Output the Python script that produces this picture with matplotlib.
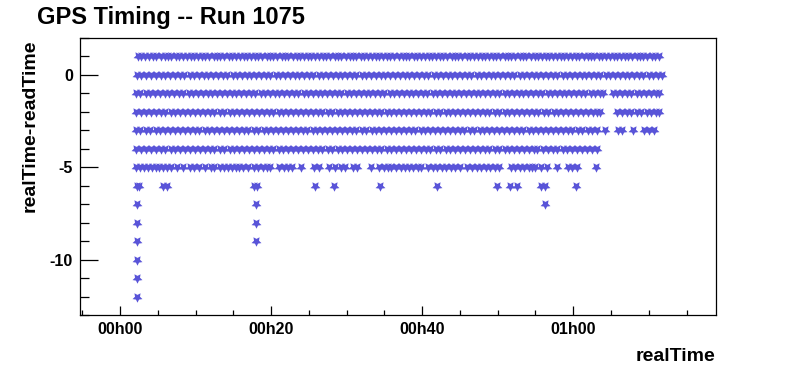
import numpy as np
import matplotlib
matplotlib.use("Agg")
import matplotlib.pyplot as plt
from matplotlib.ticker import MultipleLocator

plt.rcParams['font.family'] = ['Liberation Sans', 'DejaVu Sans']
plt.rcParams['font.weight'] = 'bold'
plt.rcParams['axes.unicode_minus'] = False

# realTime in minutes since 00h00, grouped by the value of realTime-readTime
t_p1 = [2.4, 2.8, 3.3, 3.9, 4.3, 4.8, 5.4, 5.9, 6.3, 6.8, 7.4, 7.8, 8.3, 8.9, 9.4, 9.8, 10.3, 10.9, 11.3,
        11.8, 12.4, 12.9, 13.3, 13.8, 14.4, 14.8, 15.3, 15.9, 16.4, 16.8, 17.3, 17.9, 18.3, 18.8, 19.4,
        19.9, 20.3, 20.8, 21.4, 21.8, 22.3, 22.9, 23.4, 23.8, 24.3, 24.9, 25.3, 25.8, 26.4, 26.9, 27.3,
        27.8, 28.4, 28.8, 29.3, 29.9, 30.4, 30.8, 31.3, 31.9, 32.3, 32.8, 33.4, 33.9, 34.3, 34.8, 35.4,
        35.8, 36.3, 36.9, 37.4, 37.8, 38.3, 38.9, 39.3, 39.8, 40.4, 40.9, 41.3, 41.8, 42.4, 42.8, 43.3,
        43.9, 44.4, 44.8, 45.3, 45.9, 46.3, 46.8, 47.4, 47.9, 48.3, 48.8, 49.4, 49.8, 50.3, 50.9, 51.4,
        51.8, 52.3, 52.9, 53.3, 53.8, 54.4, 54.9, 55.3, 55.8, 56.4, 56.8, 57.3, 57.9, 58.4, 58.8, 59.3,
        59.9, 60.3, 60.8, 61.4, 61.9, 62.3, 62.8, 63.4, 63.8, 64.3, 64.9, 65.4, 65.8, 66.3, 66.9, 67.3,
        67.8, 68.4, 68.9, 69.3, 69.8, 70.4, 70.8, 71.4]
t_0 = [2.2, 2.8, 3.5, 4.1, 4.7, 5.4, 6.0, 6.6, 7.3, 7.9, 8.5, 9.2, 9.8, 10.4, 11.1, 11.7, 12.3, 13.0, 13.6,
       14.2, 14.9, 15.5, 16.1, 16.8, 17.4, 18.0, 18.7, 19.3, 19.9, 20.6, 21.2, 21.8, 22.5, 23.1, 23.7,
       24.4, 25.0, 25.6, 26.3, 26.9, 27.5, 28.2, 28.8, 29.4, 30.1, 30.7, 31.3, 32.0, 32.6, 33.2, 33.9,
       34.5, 35.1, 35.8, 36.4, 37.0, 37.7, 38.3, 38.9, 39.6, 40.2, 40.8, 41.5, 42.1, 42.7, 43.4, 44.0,
       44.6, 45.3, 45.9, 46.5, 47.2, 47.8, 48.4, 49.1, 49.7, 50.3, 51.0, 51.6, 52.2, 52.9, 53.5, 54.1,
       54.8, 55.4, 56.0, 56.7, 57.3, 57.9, 58.6, 59.2, 59.8, 60.5, 61.1, 61.7, 62.4, 63.0, 63.6, 64.3,
       64.9, 65.5, 66.2, 66.8, 67.4, 68.1, 68.7, 69.3, 70.0, 70.6, 71.2, 71.7]
t_m1 = [2.1, 2.7, 3.4, 4.0, 4.6, 5.3, 5.9, 6.5, 7.2, 7.8, 8.4, 9.1, 9.7, 10.3, 11.0, 11.6, 12.2, 12.9, 13.5,
        14.1, 14.8, 15.4, 16.0, 16.7, 17.3, 17.9, 18.6, 19.2, 19.8, 20.5, 21.1, 21.7, 22.4, 23.0, 23.6,
        24.3, 24.9, 25.5, 26.2, 26.8, 27.4, 28.1, 28.7, 29.3, 30.0, 30.6, 31.2, 31.9, 32.5, 33.1, 33.8,
        34.4, 35.0, 35.7, 36.3, 36.9, 37.6, 38.2, 38.8, 39.5, 40.1, 40.7, 41.4, 42.0, 42.6, 43.3, 43.9,
        44.5, 45.2, 45.8, 46.4, 47.1, 47.7, 48.3, 49.0, 49.6, 50.2, 50.9, 51.5, 52.1, 52.8, 53.4, 54.0,
        54.7, 55.3, 55.9, 56.6, 57.2, 57.8, 58.5, 59.1, 59.7, 60.4, 61.0, 61.6, 62.3, 62.9, 63.5, 64.0,
        65.2, 65.8, 66.5, 67.1, 67.7, 68.4, 69.0, 69.6, 70.3, 70.9, 71.4]
t_m2 = [2.1, 2.8, 3.4, 4.1, 4.7, 5.4, 6.0, 6.7, 7.3, 8.0, 8.6, 9.3, 9.9, 10.6, 11.2, 11.9, 12.5, 13.2, 13.8,
        14.5, 15.1, 15.8, 16.4, 17.1, 17.7, 18.4, 19.0, 19.7, 20.3, 21.0, 21.6, 22.3, 22.9, 23.6, 24.2,
        24.9, 25.5, 26.2, 26.8, 27.5, 28.1, 28.8, 29.4, 30.1, 30.7, 31.4, 32.0, 32.7, 33.3, 34.0, 34.6,
        35.3, 35.9, 36.6, 37.2, 37.9, 38.5, 39.2, 39.8, 40.5, 41.1, 41.8, 42.4, 43.1, 43.7, 44.4, 45.0,
        45.7, 46.3, 47.0, 47.6, 48.3, 48.9, 49.6, 50.2, 50.9, 51.5, 52.2, 52.8, 53.5, 54.1, 54.8, 55.4,
        56.1, 56.7, 57.4, 58.0, 58.7, 59.3, 60.0, 60.6, 61.3, 61.9, 62.6, 63.2, 63.5,
        65.8, 66.4, 67.1, 67.7, 68.4, 69.0, 69.7, 70.3, 71.0, 71.4]
t_m3 = [2.1, 2.7, 3.4, 4.0, 4.7, 5.3, 6.0, 6.6, 7.3, 7.9, 8.6, 9.2, 9.9, 10.5, 11.2, 11.8, 12.5, 13.1, 13.8,
        14.4, 15.1, 15.7, 16.4, 17.0, 17.7, 18.3, 19.0, 19.6, 20.3, 20.9, 21.6, 22.2, 22.9, 23.5, 24.2,
        24.8, 25.5, 26.1, 26.8, 27.4, 28.1, 28.7, 29.4, 30.0, 30.7, 31.3, 32.0, 32.6, 33.3, 33.9, 34.6,
        35.2, 35.9, 36.5, 37.2, 37.8, 38.5, 39.1, 39.8, 40.4, 41.1, 41.7, 42.4, 43.0, 43.7, 44.3, 45.0,
        45.6, 46.3, 46.9, 47.6, 48.2, 48.9, 49.5, 50.2, 50.8, 51.5, 52.1, 52.8, 53.4, 54.1, 54.7, 55.4,
        56.0, 56.7, 57.3, 58.0, 58.6, 59.3, 59.9, 60.6, 61.2, 61.9, 62.5, 63.2,
        64.2, 65.9, 66.5, 67.9, 69.4, 70.0, 70.7]
t_m4 = [2.1, 2.8, 3.4, 4.1, 4.7, 5.4, 6.0, 6.7, 7.3, 8.0, 8.6, 9.3, 9.9, 10.6, 11.2, 11.9, 12.5, 13.2, 13.8,
        14.5, 15.1, 15.8, 16.4, 17.1, 17.7, 18.4, 19.0, 19.7, 20.3, 21.0, 21.6, 22.3, 22.9, 23.6, 24.2,
        24.9, 25.5, 26.2, 26.8, 27.5, 28.1, 28.8, 29.4, 30.1, 30.7, 31.4, 32.0, 32.7, 33.3, 34.0, 34.6,
        35.3, 35.9, 36.6, 37.2, 37.9, 38.5, 39.2, 39.8, 40.5, 41.1, 41.8, 42.4, 43.1, 43.7, 44.4, 45.0,
        45.7, 46.3, 47.0, 47.6, 48.3, 48.9, 49.6, 50.2, 50.9, 51.5, 52.2, 52.8, 53.5, 54.1, 54.8, 55.2,
        56.0, 56.6, 57.3, 57.9, 58.6, 59.2, 59.9, 60.5, 61.2, 61.8, 62.5, 63.1]
t_m5 = [2.1, 2.6, 3.2, 3.7, 4.2, 4.7, 5.2, 5.7, 6.2, 6.8, 7.5, 8.3, 9.2, 9.8, 10.5, 11.3, 12.0, 12.5,
        13.3, 13.8, 14.3, 14.8, 15.3, 15.8, 16.3, 16.9, 17.8, 18.3, 18.9, 19.5, 19.9, 21.1, 21.7, 22.2,
        22.8, 24.0, 25.7, 26.4, 27.6, 28.4, 29.2, 29.8, 30.8, 31.4, 33.2, 34.3, 34.9, 35.5, 35.9, 36.6,
        37.2, 37.7, 38.3, 38.8, 39.4, 39.8, 40.8, 41.4, 42.0, 42.6, 43.2, 43.8, 44.4, 45.0, 46.0, 46.6,
        47.2, 47.8, 48.4, 49.0, 49.6, 50.2, 51.7, 52.3, 52.9, 53.5, 54.1, 54.6, 55.0, 55.7, 56.5, 57.9,
        59.3, 59.9, 60.5, 63.0]
t_m6 = [2.2, 2.5, 5.7, 6.2, 17.8, 18.1, 25.8, 28.3, 34.4, 41.9, 49.9, 51.6, 52.5, 55.7, 56.3, 60.3]
t_m7 = [2.3, 18.0, 56.2]
t_m8 = [2.3, 18.0]
t_m9 = [2.3, 18.0]
t_m10 = [2.3]
t_m11 = [2.3]
t_m12 = [2.3]

rows = [(1, t_p1), (0, t_0), (-1, t_m1), (-2, t_m2), (-3, t_m3), (-4, t_m4), (-5, t_m5),
        (-6, t_m6), (-7, t_m7), (-8, t_m8), (-9, t_m9), (-10, t_m10), (-11, t_m11), (-12, t_m12)]

xtick_pos = [0, 20, 40, 60]
xtick_labels = ['00h00', '00h20', '00h40', '01h00']

fig = plt.figure(figsize=(7.96, 3.72), dpi=100)
ax = fig.add_axes([80 / 796, 57 / 372, 636 / 796, 277 / 372])

for dy, times in rows:
    t = np.array(times)
    ax.plot(t, np.full(len(t), dy), linestyle='none', marker=(5, 1, 180),
            markersize=7.5, color='#5954d8', markeredgewidth=0)

ax.set_xlim(-5.3, 78.9)
ax.set_ylim(-13, 2)
ax.set_xticks(xtick_pos)
ax.set_xticklabels(xtick_labels)
ax.xaxis.set_minor_locator(MultipleLocator(5))
ax.set_yticks([-10, -5, 0])
ax.yaxis.set_minor_locator(MultipleLocator(1))

ax.tick_params(axis='both', which='both', direction='in', top=False, right=False,
               labelsize=11.5, width=0.9)
ax.tick_params(axis='x', which='major', length=6.5, pad=5)
ax.tick_params(axis='x', which='minor', length=3.5)
ax.tick_params(axis='y', which='major', length=13, pad=5)
ax.tick_params(axis='y', which='minor', length=6.5)
for lab in ax.get_xticklabels() + ax.get_yticklabels():
    lab.set_fontweight('bold')
for sp in ax.spines.values():
    sp.set_linewidth(0.9)

fig.text(37 / 796, 1 - 24 / 372, 'GPS Timing -- Run 1075', fontsize=17, fontweight='bold',
         ha='left', va='baseline')
fig.text(30 / 796, 1 - 40 / 372, 'realTime-readTime', fontsize=14, fontweight='bold',
         rotation=90, ha='center', va='top')
fig.text(715 / 796, 1 - 361 / 372, 'realTime', fontsize=14, fontweight='bold',
         ha='right', va='baseline')

fig.savefig('out.png', dpi=100)
